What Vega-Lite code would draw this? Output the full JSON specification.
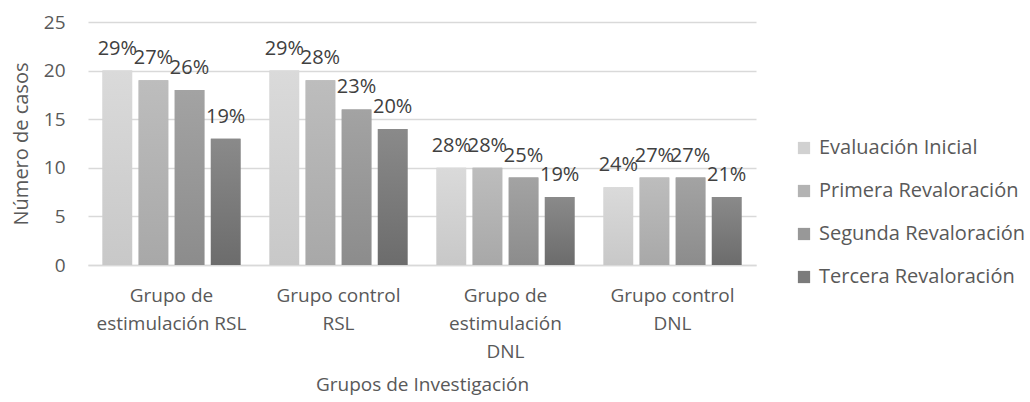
{
  "$schema": "https://vega.github.io/schema/vega-lite/v6.json",
  "width": 668,
  "height": 243,
  "autosize": {"type": "none"},
  "padding": {"left": 88, "top": 22, "right": 274, "bottom": 137},
  "background": "white",
  "config": {
    "font": "Open Sans",
    "view": {"stroke": null},
    "axis": {"labelColor": "#595959", "titleColor": "#595959", "labelFont": "Open Sans", "titleFont": "Open Sans", "titleFontWeight": "normal"},
    "legend": {"labelColor": "#595959", "labelFont": "Open Sans"}
  },
  "data": {
    "values": [
      {"grupo": "Grupo de estimulación RSL", "serie": "Evaluación Inicial", "casos": 20, "pct": "29%"},
      {"grupo": "Grupo de estimulación RSL", "serie": "Primera Revaloración", "casos": 19, "pct": "27%"},
      {"grupo": "Grupo de estimulación RSL", "serie": "Segunda Revaloración", "casos": 18, "pct": "26%"},
      {"grupo": "Grupo de estimulación RSL", "serie": "Tercera Revaloración", "casos": 13, "pct": "19%"},
      {"grupo": "Grupo control RSL", "serie": "Evaluación Inicial", "casos": 20, "pct": "29%"},
      {"grupo": "Grupo control RSL", "serie": "Primera Revaloración", "casos": 19, "pct": "28%"},
      {"grupo": "Grupo control RSL", "serie": "Segunda Revaloración", "casos": 16, "pct": "23%"},
      {"grupo": "Grupo control RSL", "serie": "Tercera Revaloración", "casos": 14, "pct": "20%"},
      {"grupo": "Grupo de estimulación DNL", "serie": "Evaluación Inicial", "casos": 10, "pct": "28%"},
      {"grupo": "Grupo de estimulación DNL", "serie": "Primera Revaloración", "casos": 10, "pct": "28%"},
      {"grupo": "Grupo de estimulación DNL", "serie": "Segunda Revaloración", "casos": 9, "pct": "25%"},
      {"grupo": "Grupo de estimulación DNL", "serie": "Tercera Revaloración", "casos": 7, "pct": "19%"},
      {"grupo": "Grupo control DNL", "serie": "Evaluación Inicial", "casos": 8, "pct": "24%"},
      {"grupo": "Grupo control DNL", "serie": "Primera Revaloración", "casos": 9, "pct": "27%"},
      {"grupo": "Grupo control DNL", "serie": "Segunda Revaloración", "casos": 9, "pct": "27%"},
      {"grupo": "Grupo control DNL", "serie": "Tercera Revaloración", "casos": 7, "pct": "21%"}
    ]
  },
  "encoding": {
    "x": {
      "field": "grupo",
      "type": "nominal",
      "sort": ["Grupo de estimulación RSL", "Grupo control RSL", "Grupo de estimulación DNL", "Grupo control DNL"],
      "scale": {"paddingInner": 0.174, "paddingOuter": 0.087},
      "axis": {
        "title": "Grupos de Investigación",
        "titleFontSize": 19,
        "titlePadding": 14,
        "labelFontSize": 19,
        "labelAngle": 0,
        "labelPadding": 21,
        "labelLineHeight": 28,
        "ticks": false,
        "domainColor": "#d9d9d9",
        "domainWidth": 1.5,
        "labelExpr": "datum.value == 'Grupo de estimulación RSL' ? ['Grupo de', 'estimulación RSL'] : datum.value == 'Grupo control RSL' ? ['Grupo control', 'RSL'] : datum.value == 'Grupo de estimulación DNL' ? ['Grupo de', 'estimulación', 'DNL'] : ['Grupo control', 'DNL']"
      }
    },
    "xOffset": {
      "field": "serie",
      "type": "nominal",
      "sort": ["Evaluación Inicial", "Primera Revaloración", "Segunda Revaloración", "Tercera Revaloración"],
      "scale": {"paddingInner": 0.18, "paddingOuter": 0}
    },
    "y": {
      "field": "casos",
      "type": "quantitative",
      "scale": {"domain": [0, 25]},
      "axis": {
        "title": "Número de casos",
        "titleFontSize": 20,
        "titlePadding": 12,
        "labelFontSize": 19,
        "labelPadding": 23,
        "values": [0, 5, 10, 15, 20, 25],
        "ticks": false,
        "domain": false,
        "gridColor": "#d9d9d9",
        "gridWidth": 1.5
      }
    }
  },
  "layer": [
    {
      "mark": {"type": "bar"},
      "encoding": {
        "color": {
          "field": "serie",
          "type": "nominal",
          "sort": ["Evaluación Inicial", "Primera Revaloración", "Segunda Revaloración", "Tercera Revaloración"],
          "scale": {"range": ["#d1d1d1", "#b3b3b3", "#989898", "#7b7b7b"]},
          "legend": {
            "title": null,
            "orient": "none",
            "legendX": 706,
            "legendY": 116,
            "symbolType": "square",
            "symbolSize": 150,
            "symbolStrokeWidth": 0,
            "labelFontSize": 20,
            "labelOffset": 5,
            "rowPadding": 23,
            "labelLimit": 300
          }
        }
      }
    },
    {
      "mark": {"type": "bar"},
      "encoding": {
        "color": {
          "condition": [
            {"test": "datum.serie === 'Evaluación Inicial'", "value": {"gradient": "linear", "x1": 0, "y1": 0, "x2": 0, "y2": 1, "stops": [{"offset": 0, "color": "#dadada"}, {"offset": 1, "color": "#c8c8c8"}]}},
            {"test": "datum.serie === 'Primera Revaloración'", "value": {"gradient": "linear", "x1": 0, "y1": 0, "x2": 0, "y2": 1, "stops": [{"offset": 0, "color": "#bdbdbd"}, {"offset": 1, "color": "#a8a8a8"}]}},
            {"test": "datum.serie === 'Segunda Revaloración'", "value": {"gradient": "linear", "x1": 0, "y1": 0, "x2": 0, "y2": 1, "stops": [{"offset": 0, "color": "#a3a3a3"}, {"offset": 1, "color": "#8c8c8c"}]}}
          ],
          "value": {"gradient": "linear", "x1": 0, "y1": 0, "x2": 0, "y2": 1, "stops": [{"offset": 0, "color": "#8a8a8a"}, {"offset": 1, "color": "#6c6c6c"}]}
        }
      }
    },
    {
      "mark": {"type": "text", "baseline": "alphabetic", "dy": -16, "fontSize": 20, "color": "#404040", "font": "Open Sans"},
      "encoding": {
        "text": {"field": "pct"}
      }
    }
  ]
}
